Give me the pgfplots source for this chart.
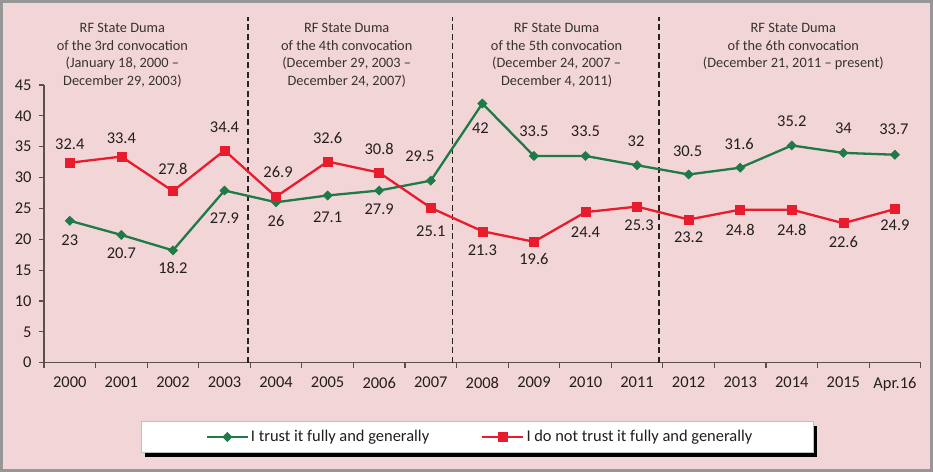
\documentclass[border=0pt]{standalone}
\usepackage{fontspec}
\setmainfont{Carlito}
\usepackage{pgfplots}
\usepackage{pgfplotstable}
\pgfplotsset{compat=1.18}
\definecolor{bgpink}{RGB}{242,213,215}
\definecolor{framecol}{RGB}{150,150,150}
\definecolor{trustgreen}{RGB}{30,122,70}
\definecolor{distrustred}{RGB}{232,28,44}
\definecolor{axiscol}{RGB}{90,78,78}
\definecolor{txt}{RGB}{35,30,30}
\definecolor{headtxt}{RGB}{55,50,50}
\definecolor{dashcol}{RGB}{40,35,35}

\pgfplotstableread{
x y lab dx dy
0 23 23 0 -19.7
1 20.7 20.7 0 -18.3
2 18.2 18.2 0 -18
3 27.9 27.9 0 -27.5
4 26 26 0 -19
5 27.1 27.1 0 -21.7
6 27.9 27.9 0 -18.6
7 29.5 29.5 -11 24.5
8 42 42 -2 -24.4
9 33.5 33.5 0 24.7
10 33.5 33.5 0 24.7
11 32 32 -1 24.3
12 30.5 30.5 -1 23.7
13 31.6 31.6 -1 23.4
14 35.2 35.2 0 24.5
15 34 34 0 24.6
16 33.7 33.7 -1 25.8
}\greentab

\pgfplotstableread{
x y lab dx dy
0 32.4 32.4 0 18.5
1 33.4 33.4 0 18.9
2 27.8 27.8 0 22.5
3 34.4 34.4 0 23.5
4 26.9 26.9 2 24.7
5 32.6 32.6 0 23.6
6 30.8 30.8 0 23.4
7 25.1 25.1 0 -23.4
8 21.3 21.3 0 -19.2
9 19.6 19.6 0 -17
10 24.4 24.4 0 -20.3
11 25.3 25.3 2 -18.4
12 23.2 23.2 0 -17.9
13 24.8 24.8 0 -20.8
14 24.8 24.8 0 -20.8
15 22.6 22.6 0 -18.9
16 24.9 24.9 0 -16.7
}\redtab

\begin{document}
\begin{tikzpicture}
\path[use as bounding box] (0,0) rectangle (933bp,472bp);
\fill[bgpink] (0,0) rectangle (933bp,472bp);
\draw[framecol, line width=3bp] (1.5bp,1.5bp) rectangle (931.5bp,470.5bp);
\fill[black] (145bp,15bp) rectangle (817bp,46bp);
\draw[fill=white, draw=black!25, line width=0.8bp] (141bp,20bp) rectangle (813bp,51bp);
\begin{axis}[
  at={(44bp,109.3bp)}, anchor=south west,
  scale only axis, width=876.7bp, height=277.7bp,
  xmin=-0.5, xmax=16.5, ymin=0, ymax=45,
  axis lines*=left,
  axis line style={draw=axiscol, line width=1.2bp},
  xtick={-0.5,0.5,...,16.5},
  x tick label as interval,
  xticklabels={2000,2001,2002,2003,2004,2005,2006,2007,2008,2009,2010,2011,2012,2013,2014,2015,Apr.16},
  ytick={0,5,...,45},
  tick align=outside,
  major tick length=5bp,
  tick style={draw=axiscol, line width=1.1bp},
  ticklabel style={font=\fontsize{16.5}{18}\selectfont, text=txt},
  yticklabel style={xshift=-4bp},
  xticklabel style={yshift=-6bp},
  /pgf/number format/assume math mode=true,
  clip=false,
  legend style={at={(0.4973,-0.2676)}, anchor=center, draw=none, fill=none,
    legend columns=2, font=\fontsize{16.5}{18}\selectfont, text=txt,
    /tikz/every even column/.append style={column sep=50bp}},
  legend cell align=left,
  legend image code/.code={\draw[mark repeat=2,mark phase=2] plot coordinates {(0bp,0bp) (20.5bp,0bp) (41bp,0bp)};},
]
\draw[dashcol, line width=1.8bp, dash pattern=on 6bp off 3.5bp] (axis cs:3.45,0) -- (axis cs:3.45,56);
\draw[dashcol, line width=1.8bp, dash pattern=on 6bp off 3.5bp] (axis cs:7.42,0) -- (axis cs:7.42,56);
\draw[dashcol, line width=1.8bp, dash pattern=on 6bp off 3.5bp] (axis cs:11.42,0) -- (axis cs:11.42,56);

\addplot[trustgreen, line width=2.3bp, mark=diamond*, mark size=4.6bp,
  mark options={solid, fill=trustgreen, line width=0.5bp, xscale=1.35}]
  table[x=x,y=y] \greentab;
\addlegendentry{I trust it fully and generally}
\addplot[distrustred, line width=2.3bp, mark=square*, mark size=4.5bp,
  mark options={solid, fill=distrustred, line width=0.5bp}]
  table[x=x,y=y] \redtab;
\addlegendentry{I do not trust it fully and generally}

\addplot[draw=none, mark=none, forget plot,
  point meta=explicit symbolic,
  visualization depends on={\thisrow{dx} \as \mydx},
  visualization depends on={\thisrow{dy} \as \mydy},
  nodes near coords,
  every node near coord/.append style={anchor=center, inner sep=0pt, xshift=\mydx pt, yshift=\mydy pt, font=\fontsize{16.5}{18}\selectfont, text=txt}]
  table[x=x,y=y,meta=lab] \greentab;
\addplot[draw=none, mark=none, forget plot,
  point meta=explicit symbolic,
  visualization depends on={\thisrow{dx} \as \mydx},
  visualization depends on={\thisrow{dy} \as \mydy},
  nodes near coords,
  every node near coord/.append style={anchor=center, inner sep=0pt, xshift=\mydx pt, yshift=\mydy pt, font=\fontsize{16.5}{18}\selectfont, text=txt}]
  table[x=x,y=y,meta=lab] \redtab;

\node[anchor=north, align=center, inner sep=0pt, font=\fontsize{14.4}{17.8}\selectfont, text=headtxt] at (axis cs:1.02,55.06) {RF State Duma\\of the 3rd convocation\\(January 18, 2000 –\\December 29, 2003)};
\node[anchor=north, align=center, inner sep=0pt, font=\fontsize{14.4}{17.8}\selectfont, text=headtxt] at (axis cs:5.37,55.06) {RF State Duma\\of the 4th convocation\\(December 29, 2003 –\\December 24, 2007)};
\node[anchor=north, align=center, inner sep=0pt, font=\fontsize{14.4}{17.8}\selectfont, text=headtxt] at (axis cs:9.44,55.06) {RF State Duma\\of the 5th convocation\\(December 24, 2007 –\\December 4, 2011)};
\node[anchor=north, align=center, inner sep=0pt, font=\fontsize{14.4}{17.8}\selectfont, text=headtxt] at (axis cs:14.03,55.06) {RF State Duma\\of the 6th convocation\\(December 21, 2011 – present)};
\end{axis}
\end{tikzpicture}
\end{document}
